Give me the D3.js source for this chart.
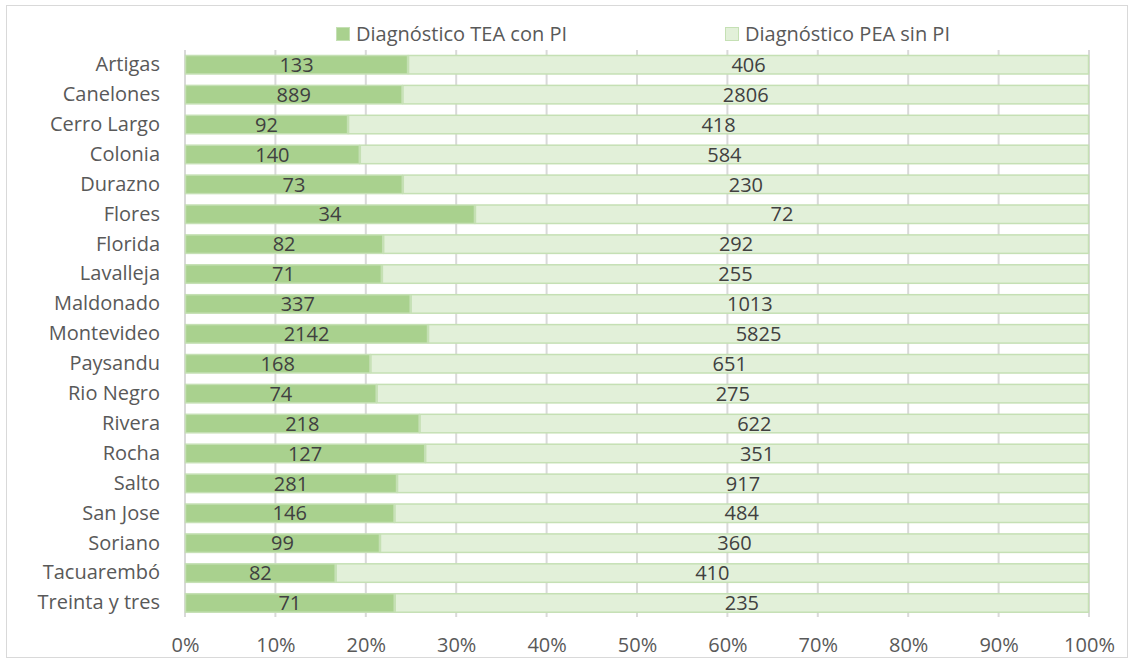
<!DOCTYPE html>
<html>
<head>
<meta charset="utf-8">
<script src="https://cdn.jsdelivr.net/npm/d3@7"></script>
<style>
  body { margin: 0; background: #fff; }
  svg { font-family: "Open Sans", "Noto Sans", sans-serif; }
</style>
</head>
<body>
<div id="chart"></div>
<script>
const departments = ["Artigas", "Canelones", "Cerro Largo", "Colonia", "Durazno", "Flores", "Florida",
  "Lavalleja", "Maldonado", "Montevideo", "Paysandu", "Rio Negro", "Rivera", "Rocha", "Salto",
  "San Jose", "Soriano", "Tacuarembó", "Treinta y tres"];
const teaConPI = [133, 889, 92, 140, 73, 34, 82, 71, 337, 2142, 168, 74, 218, 127, 281, 146, 99, 82, 71];
const peaSinPI = [406, 2806, 418, 584, 230, 72, 292, 255, 1013, 5825, 651, 275, 622, 351, 917, 484, 360, 410, 235];
const seriesNames = ["Diagnóstico TEA con PI", "Diagnóstico PEA sin PI"];
const tickValues = [0, 0.1, 0.2, 0.3, 0.4, 0.5, 0.6, 0.7, 0.8, 0.9, 1];

const width = 1134, height = 663;
const margin = { top: 50, right: 45, bottom: 46, left: 185 };
const colors = ["#a9d18e", "#e2f0d9"];
const fontSize = "20px";

const svg = d3.select("#chart").append("svg")
  .attr("width", width)
  .attr("height", height);

// chart border
svg.append("rect")
  .attr("x", 6.5).attr("y", 5.5)
  .attr("width", width - 13).attr("height", height - 11)
  .attr("fill", "#fff").attr("stroke", "#d9d9d9");

const x = d3.scaleLinear().domain([0, 1]).range([margin.left, width - margin.right]);
const y = d3.scaleBand().domain(departments).range([49, 618.7]).paddingInner(0.348).paddingOuter(0.2);

// gridlines
svg.append("g")
  .selectAll("line")
  .data(tickValues)
  .join("line")
  .attr("x1", d => x(d)).attr("x2", d => x(d))
  .attr("y1", margin.top).attr("y2", height - margin.bottom)
  .attr("stroke", "#d9d9d9").attr("stroke-width", 2);

const rows = departments.map((name, i) => {
  const total = teaConPI[i] + peaSinPI[i];
  return [
    { name, s: 0, x0: 0, x1: teaConPI[i] / total, v: teaConPI[i] },
    { name, s: 1, x0: teaConPI[i] / total, x1: 1, v: peaSinPI[i] }
  ];
}).flat();

const bars = svg.append("g");
bars.selectAll("rect")
  .data(rows)
  .join("rect")
  .attr("x", d => x(d.x0) + 0.5)
  .attr("y", d => y(d.name) + 0.5)
  .attr("width", d => x(d.x1) - x(d.x0) - 1)
  .attr("height", y.bandwidth() - 1)
  .attr("fill", d => colors[d.s])
  .attr("stroke", "#c5e0b4")
  .attr("stroke-width", 1.5);

bars.selectAll("text")
  .data(rows)
  .join("text")
  .attr("x", d => (x(d.x0) + x(d.x1)) / 2)
  .attr("y", d => y(d.name) + y.bandwidth() / 2)
  .attr("dy", "0.36em")
  .attr("text-anchor", "middle")
  .attr("fill", "#404040")
  .style("font-size", fontSize)
  .text(d => d.v);

// category labels
const yAxis = svg.append("g")
  .attr("transform", `translate(${margin.left - 25},0)`)
  .call(d3.axisLeft(y).tickSize(0).tickPadding(0));
yAxis.select(".domain").remove();
yAxis.selectAll("text")
  .attr("fill", "#595959")
  .style("font-size", fontSize)
  .style("font-family", "'Open Sans', 'Noto Sans', sans-serif");

// percentage axis
const xAxis = svg.append("g")
  .attr("transform", `translate(0,${height - margin.bottom})`)
  .call(d3.axisBottom(x).tickValues(tickValues).tickFormat(d3.format(".0%")).tickSize(0).tickPadding(21));
xAxis.select(".domain").remove();
xAxis.selectAll("text")
  .attr("fill", "#595959")
  .style("font-size", fontSize)
  .style("font-family", "'Open Sans', 'Noto Sans', sans-serif");

// legend
const legendX = [336, 725];
const legend = svg.append("g");
seriesNames.forEach((name, i) => {
  legend.append("rect")
    .attr("x", legendX[i] + 0.5).attr("y", 27.5)
    .attr("width", 13).attr("height", 13)
    .attr("fill", colors[i])
    .attr("stroke", "#c5e0b4");
  legend.append("text")
    .attr("x", legendX[i] + 20).attr("y", 34)
    .attr("dy", "0.36em")
    .attr("fill", "#595959")
    .style("font-size", fontSize)
    .text(name);
});
</script>
</body>
</html>
